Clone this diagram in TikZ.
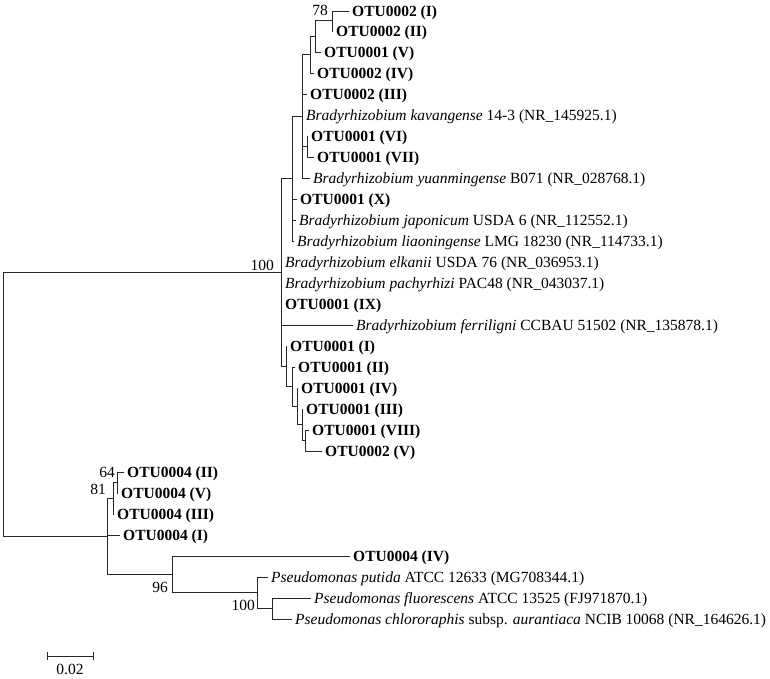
\documentclass[tikz,border=0pt]{standalone}
\usepackage{fontspec}
\setmainfont{Liberation Serif}
\tikzset{
  branch/.style={line width=0.85pt, color=black!85, line cap=rect},
  leaf/.style={anchor=west, inner xsep=3pt, inner ysep=0pt, text height=10pt,
    text depth=0pt, font=\fontsize{15.5}{18}\selectfont},
  otu/.style={leaf, font=\fontsize{15.5}{18}\selectfont\bfseries},
  boot/.style={anchor=south east, inner sep=1pt, font=\fontsize{15.5}{18}\selectfont},
  bootlow/.style={boot, anchor=north east}
}
\newcommand{\gen}[1]{\textit{#1}}

\begin{document}
\begin{tikzpicture}[x=1pt, y=-1pt]
    \useasboundingbox (0,0) rectangle (770,678);
    % Internal nodes
    \coordinate (root) at (3,404.4);
    \coordinate (brady) at (281,272.5);
    \coordinate (t1) at (292,178.6);
    \coordinate (t2) at (302,116.3);
    \coordinate (nb) at (310,54.6);
    \coordinate (na) at (315,36.3);
    \coordinate (n78) at (332,20.5);
    \coordinate (n67) at (307,146.5);
    \coordinate (l1) at (286,366.3);
    \coordinate (l2) at (292,386.7);
    \coordinate (l3) at (297,406.4);
    \coordinate (l4) at (302,424.7);
    \coordinate (l5) at (305,440.5);
    \coordinate (pseu) at (107,536.3);
    \coordinate (q) at (113,498.3);
    \coordinate (n64) at (117,482.5);
    \coordinate (r) at (172,574.4);
    \coordinate (s) at (257,592.8);
    \coordinate (t) at (272,608.5);
    % Leaves
    \node[otu] (o2i) at (349,11) {OTU0002 (I)};
    \node[otu] (o2ii) at (333,31.5) {OTU0002 (II)};
    \node[otu] (o1v) at (321,52) {OTU0001 (V)};
    \node[otu] (o2iv) at (314,73) {OTU0002 (IV)};
    \node[otu] (o2iii) at (307,94) {OTU0002 (III)};
    \node[leaf] (bkav) at (303,115) {\gen{Bradyrhizobium kavangense} 14-3 (NR\_145925.1)};
    \node[otu] (o1vi) at (308,136) {OTU0001 (VI)};
    \node[otu] (o1vii) at (314,157) {OTU0001 (VII)};
    \node[leaf] (byua) at (310,178) {\gen{Bradyrhizobium yuanmingense} B071 (NR\_028768.1)};
    \node[otu] (o1x) at (297,199) {OTU0001 (X)};
    \node[leaf] (bjap) at (296,220) {\gen{Bradyrhizobium japonicum} USDA 6 (NR\_112552.1)};
    \node[leaf] (blia) at (294,241) {\gen{Bradyrhizobium liaoningense} LMG 18230 (NR\_114733.1)};
    \node[leaf] (belk) at (282,262) {\gen{Bradyrhizobium elkanii} USDA 76 (NR\_036953.1)};
    \node[leaf] (bpac) at (282,283) {\gen{Bradyrhizobium pachyrhizi} PAC48 (NR\_043037.1)};
    \node[otu] (o1ix) at (282,304) {OTU0001 (IX)};
    \node[leaf] (bfer) at (353,325) {\gen{Bradyrhizobium ferriligni} CCBAU 51502 (NR\_135878.1)};
    \node[otu] (o1i) at (287,346) {OTU0001 (I)};
    \node[otu] (o1ii) at (295,367) {OTU0001 (II)};
    \node[otu] (o1iv) at (298,388) {OTU0001 (IV)};
    \node[otu] (o1iii) at (303,409) {OTU0001 (III)};
    \node[otu] (o1viii) at (309,430) {OTU0001 (VIII)};
    \node[otu] (o2v) at (322,451) {OTU0002 (V)};
    \node[otu] (o4ii) at (124,472) {OTU0004 (II)};
    \node[otu] (o4v) at (118,493) {OTU0004 (V)};
    \node[otu] (o4iii) at (114,514) {OTU0004 (III)};
    \node[otu] (o4i) at (120,535) {OTU0004 (I)};
    \node[otu] (o4iv) at (350,556) {OTU0004 (IV)};
    \node[leaf] (pput) at (268,577) {\gen{Pseudomonas putida} ATCC 12633 (MG708344.1)};
    \node[leaf] (pflu) at (311,598) {\gen{Pseudomonas fluorescens} ATCC 13525 (FJ971870.1)};
    \node[leaf] (pchl) at (292,619) {\gen{Pseudomonas chlororaphis} subsp. \gen{aurantiaca} NCIB 10068 (NR\_164626.1)};
    % Branches
    \foreach \p/\c in {root/brady, root/pseu,
        brady/t1, brady/belk, brady/bpac, brady/o1ix, brady/bfer, brady/l1,
        t1/t2, t1/o1x, t1/bjap, t1/blia,
        t2/nb, t2/o2iii, t2/bkav, t2/n67, t2/byua,
        nb/na, nb/o2iv, na/n78, na/o1v, n78/o2i, n78/o2ii,
        n67/o1vi, n67/o1vii,
        l1/o1i, l1/l2, l2/o1ii, l2/l3, l3/o1iv, l3/l4, l4/o1iii, l4/l5,
        l5/o1viii, l5/o2v,
        pseu/q, pseu/o4i, pseu/r, q/n64, q/o4iii, n64/o4ii, n64/o4v,
        r/o4iv, r/s, s/pput, s/t, t/pflu, t/pchl}
      \draw[branch] (\p) |- (\c);
    % Bootstrap values
    \node[boot, xshift=-6pt, yshift=1pt] (bs100a) at (brady) {100};
    \node[boot, xshift=-3pt, yshift=3.5pt] (bs78) at (n78) {78};
    \node[boot, xshift=-1pt, yshift=3.3pt] (bs64) at (n64) {64};
    \node[boot, xshift=-6pt, yshift=2pt] (bs81) at (q) {81};
    \node[bootlow, xshift=-3pt, yshift=-6.6pt] (bs96) at (r) {96};
    \node[bootlow, xshift=-1pt, yshift=-6.3pt] (bs100b) at (s) {100};
    % Scale bar
    \draw[branch] (47,656) -- (93,656);
    \draw[branch] (47,652) -- (47,660);
    \draw[branch] (93,652) -- (93,660);
    \node[font=\fontsize{15.5}{18}\selectfont, inner sep=1pt] (scalelbl) at (70,669) {0.02};
\end{tikzpicture}
\end{document}
